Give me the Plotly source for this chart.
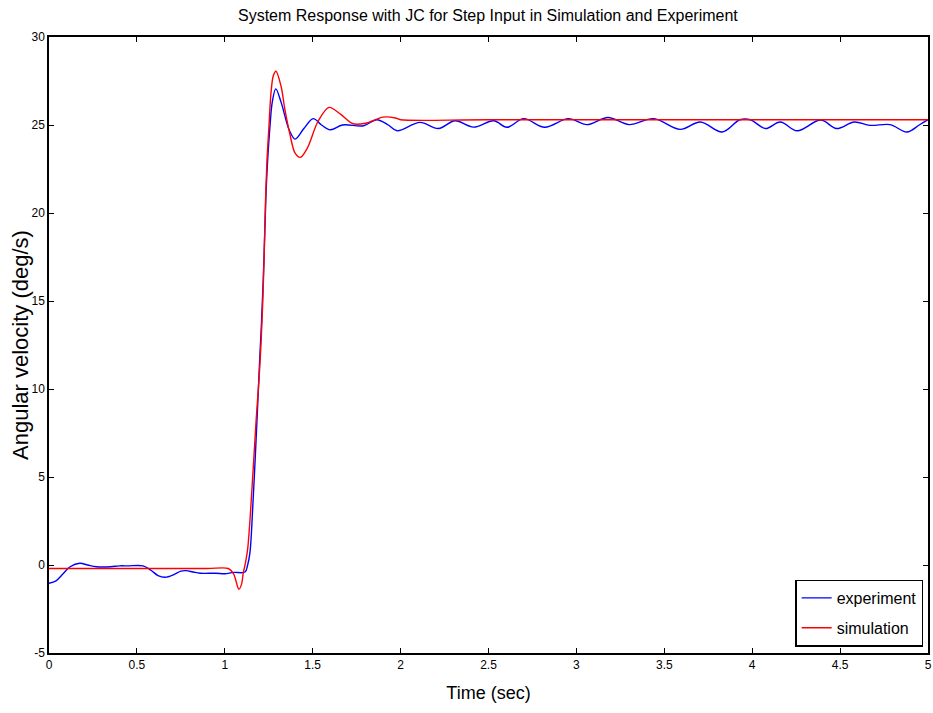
import plotly.graph_objects as go

# Measured step response (experiment)
t_exp = [0.0, 0.04, 0.08, 0.12, 0.175, 0.22, 0.27, 0.35, 0.40, 0.45, 0.535, 0.58, 0.62,
         0.66, 0.71, 0.75, 0.78, 0.82, 0.86, 0.95, 1.0, 1.05, 1.115, 1.13, 1.143, 1.16,
         1.175, 1.188, 1.199, 1.209, 1.2226, 1.234, 1.2437, 1.2568, 1.27, 1.29, 1.32,
         1.367, 1.40, 1.45, 1.503, 1.55, 1.60, 1.67, 1.79, 1.865, 1.93, 1.98, 2.11, 2.215,
         2.31, 2.415, 2.53, 2.605, 2.70, 2.82, 2.955, 3.06, 3.18, 3.30, 3.44, 3.59, 3.705,
         3.83, 3.93, 3.99, 4.075, 4.16, 4.256, 4.39, 4.48, 4.58, 4.67, 4.785, 4.88, 4.95, 5.0]
v_exp = [-1.04, -0.9, -0.5, -0.1, 0.1, 0.0, -0.1, -0.1, -0.05, -0.05, -0.05, -0.3, -0.6,
         -0.7, -0.55, -0.35, -0.32, -0.4, -0.47, -0.47, -0.5, -0.42, -0.4, 0.0, 0.7, 3.5,
         6.5, 9.3, 11.8, 13.8, 17.3, 21.0, 23.0, 24.9, 26.3, 27.05, 26.3,
         24.7, 24.2, 24.8, 25.36, 25.0, 24.73, 25.0, 24.96, 25.3, 25.0, 24.67, 25.15, 24.8,
         25.24, 24.88, 25.24, 24.87, 25.36, 24.87, 25.36, 25.02, 25.43, 25.02, 25.36, 24.75, 25.17,
         24.6, 25.3, 25.3, 24.8, 25.17, 24.67, 25.28, 24.8, 25.17, 24.98, 25.02, 24.6, 25.0, 25.3]

# Simulated step response
t_sim = [0.0, 0.5, 0.9, 1.02, 1.05, 1.08, 1.095, 1.105, 1.115, 1.13, 1.155, 1.178, 1.195,
         1.207, 1.216, 1.223, 1.231, 1.240, 1.251, 1.2625, 1.276, 1.291, 1.32, 1.342, 1.367,
         1.40, 1.43, 1.47, 1.53, 1.593, 1.66, 1.73, 1.80, 1.90, 1.97, 2.0, 2.5, 5.0]
v_sim = [-0.2, -0.2, -0.2, -0.2, -0.5, -1.38, -1.1, -0.45, 0.0, 0.9, 4.4, 8.2, 10.6,
         12.8, 15.0, 17.3, 20.5, 23.0, 24.9, 26.8, 27.8, 28.05, 27.2, 25.87, 24.63,
         23.4, 23.16, 23.7, 25.2, 26.0, 25.6, 25.07, 25.1, 25.45, 25.4, 25.3, 25.3, 25.3]

x_ticks = [0, 0.5, 1, 1.5, 2, 2.5, 3, 3.5, 4, 4.5, 5]
y_ticks = [-5, 0, 5, 10, 15, 20, 25, 30]

sans = "Liberation Sans, Arial, sans-serif"

fig = go.Figure()
fig.add_trace(go.Scatter(x=t_exp, y=v_exp, mode="lines", name="experiment",
                         legendgroup="exp",
                         line=dict(color="#0000FF", width=1.4, shape="spline", smoothing=1.0)))
fig.add_trace(go.Scatter(x=t_sim, y=v_sim, mode="lines", name="simulation",
                         legendgroup="sim",
                         line=dict(color="#FF0000", width=1.4, shape="spline", smoothing=0.9)))

axis_common = dict(showline=True, linecolor="black", linewidth=1.5, mirror="ticks",
                   ticks="inside", ticklen=5, tickcolor="black", showgrid=False,
                   zeroline=False, automargin=False,
                   tickfont=dict(family=sans, size=12, color="black"))

fig.update_xaxes(range=[0, 5], tickvals=x_ticks, ticktext=[f"{v:g}" for v in x_ticks],
                 title=dict(text="Time (sec)", font=dict(family=sans, size=18, color="black"),
                            standoff=15),
                 **axis_common)
fig.update_yaxes(range=[-5, 30], tickvals=y_ticks, ticktext=[str(v) for v in y_ticks],
                 **axis_common)

# y-axis caption, placed as a rotated annotation left of the tick labels
fig.add_annotation(text="Angular velocity (deg/s)", xref="paper", yref="paper",
                   x=-0.033, y=0.5, xanchor="center", yanchor="middle", textangle=-90,
                   showarrow=False, font=dict(family=sans, size=22, color="black"))

fig.update_layout(
    width=933, height=713,
    margin=dict(l=49, r=5, t=37, b=60),
    paper_bgcolor="white", plot_bgcolor="white",
    title=dict(text="System Response with JC for Step Input in Simulation and Experiment",
               font=dict(family=sans, size=16, color="black"),
               x=0.5229, xanchor="center",
               y=1 - 15 / 713, yanchor="middle"),
    legend=dict(x=0.9947, y=0.0102, xanchor="right", yanchor="bottom",
                bgcolor="white", bordercolor="black", borderwidth=1.3,
                font=dict(family=sans, size=16, color="black"),
                tracegroupgap=6, itemwidth=30),
    showlegend=True,
)

fig.write_html("out.html")
